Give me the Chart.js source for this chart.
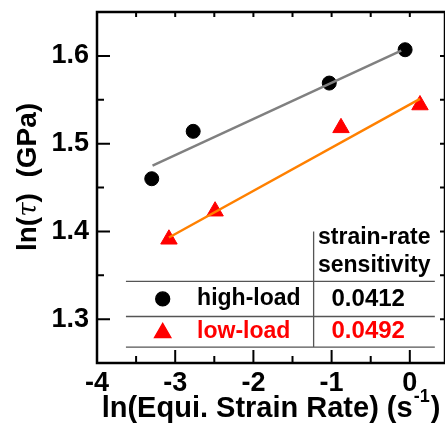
<!DOCTYPE html>
<html>
<head>
<meta charset="utf-8">
<script src="https://cdn.jsdelivr.net/npm/chart.js@4.4.1/dist/chart.umd.min.js"></script>
<style>
  html, body { margin: 0; padding: 0; background: #fff; }
  #wrap { width: 445px; height: 431px; }
</style>
</head>
<body>
<div id="wrap"><canvas id="rateChart" width="445" height="431"></canvas></div>
<script>
// ln(tau) against ln(equivalent strain rate), two load regimes
const highLoadX = [-3.30, -2.77, -1.03, -0.06];
const highLoadY = [1.460, 1.514, 1.569, 1.607];
const lowLoadX = [-3.08, -2.49, -0.88, 0.13];
const lowLoadY = [1.391, 1.423, 1.518, 1.544];

// strain-rate sensitivity = slope of each fit
const seriesNames = ['high-load', 'low-load'];
const sensitivity = [0.0412, 0.0492];

// fit lines: x span and starting value, slope taken from the table
const highFitX = [-3.29, -0.11];
const highFitStart = 1.475;
const lowFitX = [-3.08, 0.13];
const lowFitStart = 1.393;

const xTicks = [-4, -3, -2, -1, 0];
const xMinor = [-3.5, -2.5, -1.5, -0.5];
const yTicks = [1.3, 1.4, 1.5, 1.6];
const yMinor = [1.35, 1.45, 1.55];

const FONT = '"Liberation Sans", Arial, sans-serif';
const RED = '#FF0000';

function points(xs, ys) {
    return xs.map((x, i) => ({ x: x, y: ys[i] }));
}

function fitLine(xs, start, slope) {
    return xs.map(x => ({ x: x, y: start + slope * (x - xs[0]) }));
}

// frame, inward ticks, axis titles and the sensitivity table
const decorations = {
    id: 'decorations',
    afterDatasetsDraw(chart) {
        const ctx = chart.ctx;
        const a = chart.chartArea;
        const xs = chart.scales.x;
        const ys = chart.scales.y;

        ctx.save();
        ctx.strokeStyle = '#000';
        ctx.lineWidth = 2.5;
        ctx.strokeRect(a.left, a.top, a.right - a.left, a.bottom - a.top);

        ctx.lineWidth = 2;
        ctx.beginPath();
        xTicks.concat(xMinor).forEach(v => {
            const px = xs.getPixelForValue(v);
            const len = xTicks.includes(v) ? 13 : 7;
            ctx.moveTo(px, a.bottom);
            ctx.lineTo(px, a.bottom - len);
            ctx.moveTo(px, a.top);
            ctx.lineTo(px, a.top + 5);
        });
        yTicks.concat(yMinor).forEach(v => {
            const py = ys.getPixelForValue(v);
            const len = yTicks.includes(v) ? 13 : 7;
            ctx.moveTo(a.left, py);
            ctx.lineTo(a.left + len, py);
            ctx.moveTo(a.right, py);
            ctx.lineTo(a.right - 5, py);
        });
        ctx.stroke();

        // x title with superscript
        ctx.fillStyle = '#000';
        ctx.textBaseline = 'alphabetic';
        ctx.textAlign = 'left';
        const mainFont = 'bold 29px ' + FONT;
        const supFont = 'bold 18px ' + FONT;
        const base = 'ln(Equi. Strain Rate) (s';
        ctx.font = mainFont;
        const w1 = ctx.measureText(base).width;
        const w3 = ctx.measureText(')').width;
        ctx.font = supFont;
        const w2 = ctx.measureText('-1').width;
        let tx = 271 - (w1 + w2 + w3 + 2) / 2;
        const ty = 417;
        ctx.font = mainFont;
        ctx.fillText(base, tx, ty);
        tx += w1 + 1;
        ctx.font = supFont;
        ctx.fillText('-1', tx, ty - 15);
        tx += w2 + 1;
        ctx.font = mainFont;
        ctx.fillText(')', tx, ty);

        // y title, rotated, italic tau
        const yFont = 'bold 28px ' + FONT;
        const parts = [
            { t: 'ln(', f: yFont },
            { t: 'τ', f: 'italic 26px "DejaVu Serif", serif' },
            { t: ')  (GPa)', f: yFont }
        ];
        let total = 0;
        parts.forEach(p => { ctx.font = p.f; p.w = ctx.measureText(p.t).width; total += p.w; });
        ctx.save();
        ctx.translate(36, 177);
        ctx.rotate(-Math.PI / 2);
        let ox = -total / 2;
        parts.forEach(p => {
            ctx.font = p.f;
            ctx.fillText(p.t, ox, 0);
            ox += p.w;
        });
        ctx.restore();

        // sensitivity table, laid out in axis units
        const X = v => xs.getPixelForValue(v);
        const Y = v => ys.getPixelForValue(v);
        const left = X(-3.63), split = X(-1.23), right = X(0.32);
        const rows = [Y(1.343), Y(1.303), Y(1.268)];
        ctx.strokeStyle = '#555';
        ctx.lineWidth = 1.3;
        ctx.beginPath();
        rows.forEach(r => { ctx.moveTo(left, r); ctx.lineTo(right, r); });
        ctx.moveTo(split, Y(1.40));
        ctx.lineTo(split, rows[2]);
        ctx.stroke();

        const colMid = (split + right) / 2;
        ctx.font = 'bold 23px ' + FONT;
        ctx.textAlign = 'center';
        ctx.textBaseline = 'middle';
        ctx.fillStyle = '#000';
        ctx.fillText('strain-rate', colMid, Y(1.393));
        ctx.fillText('sensitivity', colMid, Y(1.361));

        const rowMid = [(rows[0] + rows[1]) / 2, (rows[1] + rows[2]) / 2];
        const colors = ['#000', RED];
        const styles = [
            { pointStyle: 'circle', radius: 7, borderWidth: 1, rotation: 0 },
            { pointStyle: 'triangle', radius: 9.5, borderWidth: 1, rotation: 0 }
        ];
        const markX = X(-3.16);
        const textX = X(-2.72);
        rowMid.forEach((my, i) => {
            ctx.fillStyle = colors[i];
            ctx.strokeStyle = colors[i];
            Chart.helpers.drawPoint(ctx, styles[i], markX, my + (i === 1 ? 1 : 0));
            ctx.textAlign = 'left';
            ctx.font = 'bold 23px ' + FONT;
            ctx.fillText(seriesNames[i], textX, my);
            ctx.textAlign = 'center';
            ctx.font = 'bold 24px ' + FONT;
            ctx.fillText(sensitivity[i].toFixed(4), colMid - 6, my);
        });
        ctx.restore();
    }
};

const ctx = document.getElementById('rateChart').getContext('2d');

new Chart(ctx, {
    type: 'scatter',
    data: {
        datasets: [
            {
                label: 'high-load fit',
                data: fitLine(highFitX, highFitStart, sensitivity[0]),
                showLine: true,
                borderColor: '#808080',
                borderWidth: 2.5,
                pointRadius: 0,
                order: 0
            },
            {
                label: 'low-load fit',
                data: fitLine(lowFitX, lowFitStart, sensitivity[1]),
                showLine: true,
                borderColor: '#FF8000',
                borderWidth: 2.5,
                pointRadius: 0,
                order: 0
            },
            {
                label: seriesNames[0],
                data: points(highLoadX, highLoadY),
                pointStyle: 'circle',
                pointRadius: 7,
                backgroundColor: '#000',
                borderColor: '#000',
                borderWidth: 1,
                order: 1
            },
            {
                label: seriesNames[1],
                data: points(lowLoadX, lowLoadY),
                pointStyle: 'triangle',
                pointRadius: 9.5,
                backgroundColor: RED,
                borderColor: RED,
                borderWidth: 1,
                order: 1
            }
        ]
    },
    options: {
        responsive: false,
        animation: false,
        layout: { autoPadding: false, padding: { top: 12, right: -2, left: 0, bottom: 0 } },
        plugins: {
            legend: { display: false },
            tooltip: { enabled: false }
        },
        scales: {
            x: {
                type: 'linear',
                min: -4,
                max: 0.45,
                afterBuildTicks: s => { s.ticks = xTicks.map(v => ({ value: v })); },
                afterFit: s => { s.height = 68; s.paddingLeft = 0; s.paddingRight = 0; },
                grid: { display: false, drawTicks: false },
                border: { display: false },
                ticks: {
                    font: { family: FONT, size: 27, weight: 'bold' },
                    color: '#000',
                    padding: 4,
                    maxRotation: 0,
                    callback: v => String(v)
                }
            },
            y: {
                type: 'linear',
                min: 1.25,
                max: 1.65,
                afterBuildTicks: s => { s.ticks = yTicks.map(v => ({ value: v })); },
                afterFit: s => { s.width = 97; s.paddingTop = 0; s.paddingBottom = 0; },
                grid: { display: false, drawTicks: false },
                border: { display: false },
                ticks: {
                    font: { family: FONT, size: 27, weight: 'bold' },
                    color: '#000',
                    padding: 8,
                    callback: v => v.toFixed(1)
                }
            }
        }
    },
    plugins: [decorations]
});
</script>
</body>
</html>
